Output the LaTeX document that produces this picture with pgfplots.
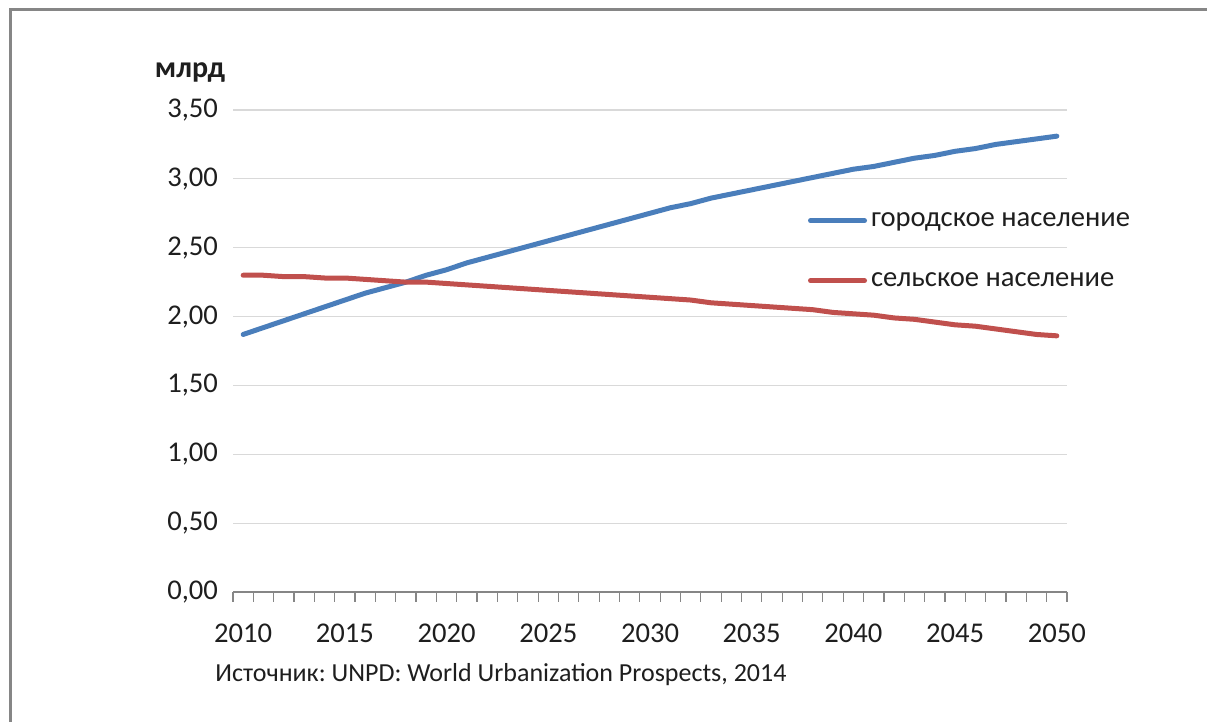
\documentclass[border=0pt]{standalone}
\usepackage{pgfplots}
\pgfplotsset{compat=1.18}
\usepackage{pgfplotstable}
\usepackage{fontspec}
\setmainfont{Carlito}

\definecolor{urban}{RGB}{74,126,187}
\definecolor{rural}{RGB}{192,80,77}
\definecolor{gridgray}{RGB}{217,217,217}
\definecolor{axisgray}{RGB}{134,134,134}
\definecolor{txt}{RGB}{30,30,30}

% urban / rural population, bn
\pgfplotstableread{
year urban rural
2010 1.87 2.30
2011 1.92 2.30
2012 1.97 2.29
2013 2.02 2.29
2014 2.07 2.28
2015 2.12 2.28
2016 2.17 2.27
2017 2.21 2.26
2018 2.25 2.25
2019 2.30 2.25
2020 2.34 2.24
2021 2.39 2.23
2022 2.43 2.22
2023 2.47 2.21
2024 2.51 2.20
2025 2.55 2.19
2026 2.59 2.18
2027 2.63 2.17
2028 2.67 2.16
2029 2.71 2.15
2030 2.75 2.14
2031 2.79 2.13
2032 2.82 2.12
2033 2.86 2.10
2034 2.89 2.09
2035 2.92 2.08
2036 2.95 2.07
2037 2.98 2.06
2038 3.01 2.05
2039 3.04 2.03
2040 3.07 2.02
2041 3.09 2.01
2042 3.12 1.99
2043 3.15 1.98
2044 3.17 1.96
2045 3.20 1.94
2046 3.22 1.93
2047 3.25 1.91
2048 3.27 1.89
2049 3.29 1.87
2050 3.31 1.86
}\popdata

\begin{document}
\frenchspacing
\begin{tikzpicture}
\path[use as bounding box] (0,0) rectangle (603.5pt,361pt);
\draw[axisgray, line width=1.5pt] (5.25pt,-2pt) -- (5.25pt,356.25pt) -- (606pt,356.25pt);
\begin{axis}[
    at={(116.5pt,65pt)}, anchor=south west,
    scale only axis, width=417pt, height=241pt,
    xmin=2009.5, xmax=2050.5, ymin=0, ymax=3.5,
    axis lines*=left,
    x axis line style={axisgray, line width=0.75pt, -},
    y axis line style={draw=none},
    xtick={2010,2015,...,2050},
    minor xtick={2009.5,2010.5,...,2050.5},
    xtick style={axisgray, line width=0.6pt},
    tick align=outside,
    major tick length=0pt, minor tick length=5pt,
    ytick={0,0.5,...,3.5},
    ytick style={draw=none},
    ymajorgrids, grid style={gridgray, line width=0.6pt},
    /pgf/number format/assume math mode=true,
    tick label style={font=\fontsize{14.3}{17}\selectfont, text=txt},
    yticklabel style={xshift=-4pt, /pgf/number format/.cd, fixed, fixed zerofill, precision=2, use comma},
    xticklabel style={yshift=-12.5pt, /pgf/number format/1000 sep={}},
    legend image code/.code={\draw[line width=2.5pt, line cap=round] (0pt,0pt) -- (27pt,0pt);},
    legend style={at={(0.689,0.708)}, anchor=west, draw=none, fill=none, inner sep=0pt,
        font=\fontsize{14.3}{17}\selectfont, text=txt, row sep=17.5pt},
    legend cell align=left,
]
\addplot[urban, line width=2.5pt, line cap=round, line join=round] table[x=year, y=urban] {\popdata};
\addlegendentry{городское население}
\addplot[rural, line width=2.5pt, line cap=round, line join=round] table[x=year, y=rural] {\popdata};
\addlegendentry{сельское население}
\end{axis}
\node[font=\bfseries\fontsize{15}{18}\selectfont, text=txt] at (95pt,324.5pt) {млрд};
\node[anchor=west, inner sep=0pt, font=\fontsize{13}{16}\selectfont, text=txt] at (107.5pt,23.5pt) {Источник: UNPD: World Urbanization Prospects, 2014};
\end{tikzpicture}
\end{document}
